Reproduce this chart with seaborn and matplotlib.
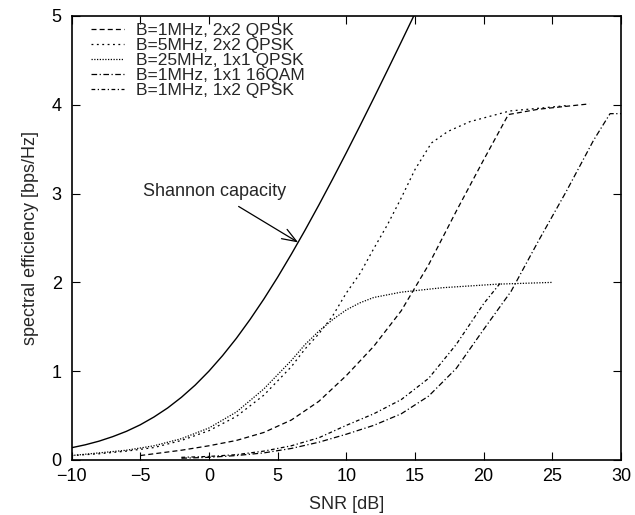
import pandas as pd
import seaborn as sns
import matplotlib.pyplot as plt

# ===== DATA =====
shannon_snr = [-10, -9, -8, -7, -6, -5, -4, -3, -2, -1, 0, 1, 2, 3, 4, 5, 6, 7, 8, 9, 10, 11, 12, 13, 14, 15]
shannon_eff = [0.138, 0.171, 0.212, 0.263, 0.323, 0.396, 0.484, 0.586, 0.706, 0.843, 1.0, 1.176,
               1.37, 1.583, 1.812, 2.057, 2.317, 2.588, 2.87, 3.161, 3.459, 3.764, 4.074, 4.389,
               4.707, 5.028]

labels = ["B=1MHz, 2x2 QPSK", "B=5MHz, 2x2 QPSK", "B=25MHz, 1x1 QPSK",
          "B=1MHz, 1x1 16QAM", "B=1MHz, 1x2 QPSK"]

snr_1mhz_2x2 = [-5, -2, 0, 2, 4, 6, 8, 10, 12, 14, 16, 18, 20, 21.8, 24, 27.7]
eff_1mhz_2x2 = [0.05, 0.11, 0.16, 0.22, 0.31, 0.45, 0.66, 0.95, 1.28, 1.68, 2.2, 2.8, 3.38, 3.89, 3.95, 4.01]

snr_5mhz_2x2 = [-10, -8, -6, -4, -2, 0, 2, 4, 6, 7, 8, 9, 10, 11, 12, 13, 14, 15, 16.2, 17.4, 19, 21.9, 26]
eff_5mhz_2x2 = [0.05, 0.07, 0.1, 0.14, 0.22, 0.33, 0.49, 0.73, 1.05, 1.25, 1.42, 1.62, 1.88, 2.1, 2.38, 2.65,
                2.95, 3.27, 3.57, 3.7, 3.81, 3.93, 3.99]

snr_25mhz_1x1 = [-10, -8, -6, -4, -2, 0, 2, 4, 6, 7, 8, 9, 10, 11, 12, 14, 17, 21, 25]
eff_25mhz_1x1 = [0.05, 0.08, 0.11, 0.16, 0.24, 0.36, 0.54, 0.8, 1.12, 1.3, 1.45, 1.58, 1.69, 1.77, 1.83,
                 1.89, 1.94, 1.98, 2.0]

snr_16qam = [-2, 0, 2, 4, 6, 8, 10, 12, 14, 16, 18, 20, 22, 24, 26, 28, 29.2, 30]
eff_16qam = [0.02, 0.03, 0.05, 0.08, 0.13, 0.2, 0.29, 0.39, 0.52, 0.72, 1.03, 1.47, 1.9, 2.47, 3.02, 3.6, 3.9, 3.9]

snr_1x2 = [-2, 0, 2, 4, 6, 8, 10, 12, 14, 16, 18, 20, 21.2]
eff_1x2 = [0.03, 0.04, 0.06, 0.1, 0.16, 0.25, 0.39, 0.52, 0.68, 0.92, 1.3, 1.76, 1.99]

# long table for seaborn
parts = []
for lab, xs, ys in zip(labels,
                       [snr_1mhz_2x2, snr_5mhz_2x2, snr_25mhz_1x1, snr_16qam, snr_1x2],
                       [eff_1mhz_2x2, eff_5mhz_2x2, eff_25mhz_1x1, eff_16qam, eff_1x2]):
    parts.append(pd.DataFrame({"snr": xs, "eff": ys, "case": lab}))
df = pd.concat(parts, ignore_index=True)

sns.set_theme(style="ticks")
plt.rcParams["font.family"] = ["Liberation Sans", "DejaVu Sans"]

fig = plt.figure(figsize=(6.35, 5.15), dpi=100)
ax = fig.add_axes([0.1126, 0.1068, 0.8654, 0.8622])

dash_map = {
    labels[0]: (4, 2.5),
    labels[1]: (1.5, 2.8),
    labels[2]: (1, 1.2),
    labels[3]: (4.5, 2, 1, 2),
    labels[4]: (3, 2, 1, 2),
}

sns.lineplot(x=shannon_snr, y=shannon_eff, ax=ax, color="black", lw=1.0,
             legend=False, estimator=None, sort=False)
sns.lineplot(data=df, x="snr", y="eff", style="case", dashes=dash_map,
             color="black", lw=0.9, estimator=None, sort=False, ax=ax)

ax.annotate("Shannon capacity", xy=(6.5, 2.45), xytext=(0.4, 3.02),
            ha="center", va="center", fontsize=13,
            arrowprops=dict(arrowstyle="->,head_length=0.8,head_width=0.3",
                            color="black", lw=0.9, shrinkA=4, shrinkB=0))

ax.set_xlim(-10, 30)
ax.set_ylim(0, 5)
ax.set_xticks(range(-10, 31, 5))
ax.set_yticks(range(0, 6))
ax.set_xlabel("SNR [dB]", fontsize=13, labelpad=8)
ax.set_ylabel("spectral efficiency [bps/Hz]", fontsize=13, labelpad=9)
ax.tick_params(direction="in", top=True, right=True, length=5.5, width=0.8,
               labelsize=13, colors="black")
ax.tick_params(axis="x", pad=6)
ax.tick_params(axis="y", pad=7)
for sp in ax.spines.values():
    sp.set_color("black")
    sp.set_linewidth(1.2)

ax.legend(loc="upper left", bbox_to_anchor=(0.035, 0.985), frameon=False,
          fontsize=12.5, handlelength=1.9, handletextpad=0.7, labelspacing=0.0,
          borderpad=0, borderaxespad=0)

fig.savefig("out.png", dpi=100)
